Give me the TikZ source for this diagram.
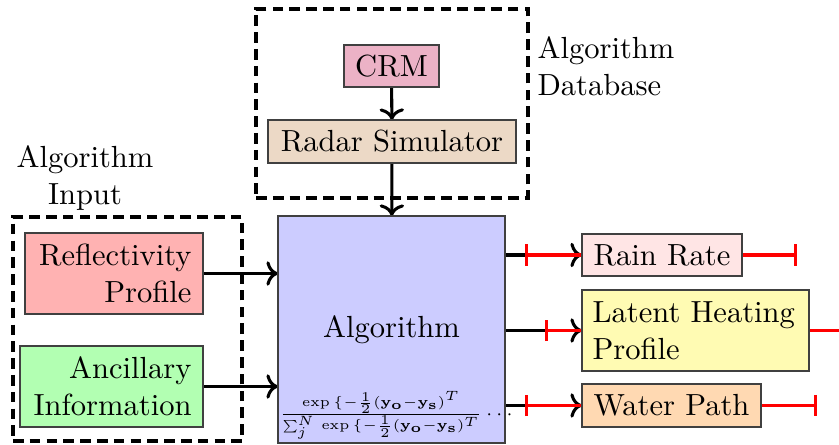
\documentclass[tikz,border=0pt]{standalone}
\usepackage{amsmath}
\usepackage{graphicx}
\usetikzlibrary{arrows.meta}
\pgfdeclarelayer{bg}
\pgfsetlayers{bg,main}
\begin{document}
\begin{tikzpicture}[x=0.3273pt,y=-0.3273pt,
  box/.style={draw=black!75, line width=0.5pt, inner sep=0pt, outer sep=0pt},
  dashbox/.style={draw=black, line width=1.2pt, dash pattern=on 3.5pt off 2pt, inner sep=0pt, outer sep=0pt},
  arr/.style={->, line width=1pt},
  errbar/.style={{Bar[width=7pt]}-{Bar[width=7pt]}, red, line width=1pt}]
\useasboundingbox (0,0) rectangle (839,445);

% group frames
\node[dashbox, minimum width=89.0pt, minimum height=61.9pt] (db) at (392,103.5) {};
\node[dashbox, minimum width=75.0pt, minimum height=73.3pt] (inp) at (127.5,329) {};

% labels
\node[align=left, anchor=west, inner sep=0pt] (dblab) at (537,66.5) {Algorithm\\Database};
\node[align=center, inner sep=0pt] (inlab) at (85,178) {Algorithm\\Input};

% boxes
\node[box, fill=purple!30, minimum width=31.09pt, minimum height=13.75pt] (crm) at (391.5,66) {CRM};
\node[box, fill=brown!30, minimum width=81.17pt, minimum height=14.07pt] (radar) at (392,141.5) {Radar Simulator};
\node[box, fill=blue!20, minimum width=74.3pt, minimum height=74.3pt] (alg) at (391.5,329.5) {Algorithm};
\node[anchor=south west, inner xsep=0.3pt, inner ysep=1.0pt, font=\fontsize{6.6}{8}\selectfont] (frac) at (alg.south west)
  {\scalebox{0.88}{$\frac{\exp\,\{-\frac{1}{2}(\mathbf{y_o}-\mathbf{y_s})^T}{\sum_j^N\,\exp\,\{-\frac{1}{2}(\mathbf{y_o}-\mathbf{y_s})^T}\cdots$}};
\node[box, fill=red!30, minimum width=58.26pt, minimum height=26.51pt, inner xsep=3.76pt,
  text width=50.7pt, align=right] (refl) at (114,273.5) {Reflectivity\\Profile};
\node[box, fill=green!30, minimum width=59.9pt, minimum height=26.51pt, inner xsep=3.76pt,
  text width=52.4pt, align=right] (anc) at (111.5,386.5) {Ancillary\\Information};
\node[box, fill=red!10, minimum width=52.37pt, minimum height=13.75pt] (rain) at (662,255) {Rain Rate};
\node[box, fill=yellow!30, minimum width=74.3pt, minimum height=26.51pt, inner xsep=3.44pt,
  text width=67.4pt, align=left] (lat) at (695.5,330.5) {Latent Heating\\Profile};
\node[box, fill=orange!30, minimum width=58.59pt, minimum height=14.07pt] (wp) at (671.5,405.5) {Water Path};

% error bar ends
\coordinate (rainL) at ([xshift=-57*0.3273pt]rain.west);
\coordinate (rainR) at ([xshift=55*0.3273pt]rain.east);
\coordinate (latL) at ([xshift=-37*0.3273pt]lat.west);
\coordinate (latR) at ([xshift=55*0.3273pt]lat.east);
\coordinate (wpL) at ([xshift=-57*0.3273pt]wp.west);
\coordinate (wpR) at ([xshift=56*0.3273pt]wp.east);

\begin{pgfonlayer}{bg}
\draw[arr] (crm) -- (radar);
\draw[arr] (radar) -- (alg);
\draw[arr] (refl.east) -- (refl.east -| alg.west);
\draw[arr] (anc.east) -- (anc.east -| alg.west);
\draw[arr] (rain.west -| alg.east) -- (rain.west);
\draw[arr] (lat.west -| alg.east) -- (lat.west);
\draw[arr] (wp.west -| alg.east) -- (wp.west);
\draw[errbar] (rainL) -- (rainR);
\draw[errbar] (latL) -- (latR);
\draw[errbar] (wpL) -- (wpR);
\end{pgfonlayer}
\end{tikzpicture}
\end{document}
